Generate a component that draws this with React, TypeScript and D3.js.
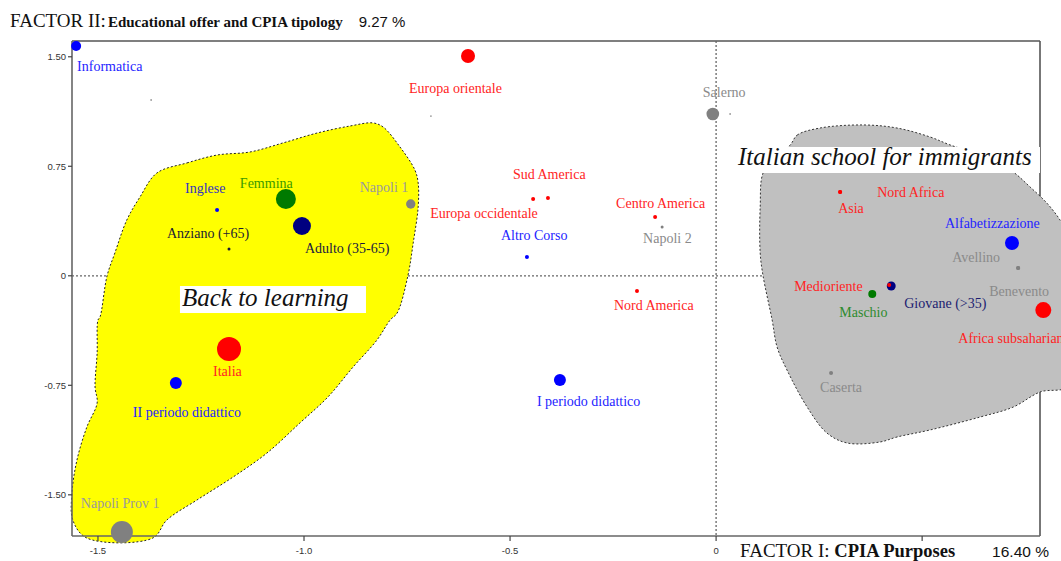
import React from 'react';
import * as d3 from 'd3';

// ---------- data ----------
const pointNames = [
  'Informatica', 'Europa orientale', 'Salerno', 'Napoli 1', 'Femmina', 'Adulto (35-65)', 'Inglese',
  'Anziano (+65)', 'Europa occidentale', 'Sud America', 'Altro Corso', 'Centro America', 'Napoli 2',
  'Nord America', 'I periodo didattico', 'II periodo didattico', 'Italia', 'Napoli Prov 1', 'Asia',
  'Nord Africa', 'Alfabetizzazione', 'Avellino', 'Benevento', 'Giovane (>35)', 'Medioriente', 'Maschio',
  'Africa subsahariana', 'Caserta',
];
const factor1 = [
  -1.553, -0.602, -0.008, -0.741, -1.044, -1.005, -1.211,
  -1.182, -0.444, -0.408, -0.459, -0.148, -0.131,
  -0.192, -0.379, -1.311, -1.182, -1.442, 0.301,
  0.301, 0.718, 0.733, 0.733, 0.425, 0.420, 0.379,
  0.794, 0.279,
];
const factor2 = [
  1.574, 1.505, 1.108, 0.492, 0.526, 0.341, 0.451,
  0.184, 0.526, 0.533, 0.129, 0.403, 0.334,
  -0.104, -0.714, -0.734, -0.502, -1.755, 0.574,
  0.574, 0.225, 0.053, 0.053, -0.070, -0.063, -0.125,
  -0.235, -0.666,
];
const pointGroup = [
  'course', 'region', 'cpia', 'cpia', 'gender', 'age', 'course',
  'age', 'region', 'region', 'course', 'region', 'cpia',
  'region', 'course', 'course', 'region', 'cpia', 'region',
  'region', 'course', 'cpia', 'cpia', 'age', 'region', 'gender',
  'region', 'cpia',
];
const mass = [
  25, 49, 40, 22, 100, 81, 4,
  2.25, 4, 4, 4, 4, 2.25,
  4, 36, 36, 144, 121, 4,
  4, 49, 4, 4, 20, 4, 16,
  64, 4,
];
// unlabeled residual points
const strayF1 = [-1.371, -0.692, 0.034];
const strayF2 = [1.204, 1.094, 1.108];

const xTicks = [-1.5, -1.0, -0.5, 0, 0.5];
const xTickLabels = ['-1.5', '-1.0', '-0.5', '0', ''];
const yTicks = [1.5, 0.75, 0, -0.75, -1.5];
const yTickLabels = ['1.50', '0.75', '0', '-0.75', '-1.50'];

// outlines of the two groupings (factor coordinates)
const backOutline: [number, number][] = [
  [-1.357, 0.704], [-1.284, 0.773], [-1.211, 0.827], [-1.131, 0.848], [-1.051, 0.91], [-0.968, 0.978],
  [-0.888, 1.026], [-0.833, 1.047], [-0.808, 1.019], [-0.767, 0.882], [-0.731, 0.725], [-0.723, 0.636],
  [-0.723, 0.471], [-0.735, 0.225], [-0.748, -0.001], [-0.774, -0.255], [-0.791, -0.303], [-0.823, -0.44],
  [-0.881, -0.625], [-0.942, -0.83], [-1.01, -1.008], [-1.09, -1.214], [-1.172, -1.378], [-1.26, -1.536],
  [-1.333, -1.673], [-1.367, -1.796], [-1.527, -1.796], [-1.561, -1.673], [-1.563, -1.488], [-1.551, -1.262],
  [-1.527, -1.036], [-1.502, -0.871], [-1.507, -0.762], [-1.502, -0.529], [-1.5, -0.303], [-1.495, -0.282],
  [-1.478, -0.001], [-1.459, 0.156], [-1.43, 0.382], [-1.398, 0.54],
];
const immigrantOutline: [number, number][] = [
  [0.18, 0.896], [0.197, 0.964], [0.252, 1.012], [0.357, 1.033], [0.439, 1.012], [0.519, 0.951],
  [0.568, 0.896], [0.641, 0.827], [0.714, 0.725], [0.762, 0.608], [0.811, 0.471], [0.847, 0.314],
  [0.87, 0.0], [0.859, -0.748], [0.786, -0.796], [0.721, -0.899], [0.641, -0.967], [0.519, -1.056],
  [0.439, -1.104], [0.398, -1.138], [0.318, -1.145], [0.269, -1.077], [0.221, -0.899], [0.172, -0.645],
  [0.148, -0.488], [0.136, -0.303], [0.114, -0.001], [0.107, 0.156], [0.107, 0.471], [0.114, 0.704],
  [0.143, 0.807],
];
const backTitle = 'Back to learning';
const immigrantTitle = 'Italian school for immigrants';

// ---------- layout / style ----------
const W = 1061;
const H = 561;
const PLOT = { left: 72, right: 1040, top: 41, bottom: 536 };
const X_DOMAIN: [number, number] = [-1.563, 0.786];
const Y_DOMAIN: [number, number] = [-1.782, 1.608];

const dotColor: Record<string, string> = {
  region: '#ff0000', course: '#0000ff', age: '#000080', gender: '#007a00', cpia: '#808080',
};
const textColor: Record<string, string> = {
  region: '#ff2424', course: '#2424ff', age: '#1c1c70', gender: '#2e8b2e', cpia: '#8a8a8a',
};
const textColorOverride: Record<string, string> = {
  'Anziano (+65)': '#1a1a33', 'Adulto (35-65)': '#1a1a40', 'Inglese': '#3434c0', 'Femmina': '#3a9a00',
  'Napoli 1': '#9a9a9a', 'Napoli Prov 1': '#9a9a9a',
};
const dotColorOverride: Record<string, string> = { 'Anziano (+65)': '#1a1a33' };

const labelOffset: Record<string, [number, number]> = {
  'Informatica': [1, 25], 'Europa orientale': [-59, 37], 'Salerno': [-10, -17], 'Napoli 1': [-51, -12],
  'Femmina': [-46, -11], 'Adulto (35-65)': [3, 27], 'Inglese': [-32, -17], 'Anziano (+65)': [-62, -11],
  'Europa occidentale': [-103, 19], 'Sud America': [-35, -19], 'Altro Corso': [-26, -17],
  'Centro America': [-39, -9], 'Napoli 2': [-19, 16], 'Nord America': [-23, 19],
  'I periodo didattico': [-23, 26], 'II periodo didattico': [-43, 34], 'Italia': [-16, 27],
  'Napoli Prov 1': [-41, -24], 'Asia': [-2, 21], 'Nord Africa': [37, 5], 'Alfabetizzazione': [-67, -15],
  'Avellino': [-66, -6], 'Benevento': [-29, 28], 'Medioriente': [-95, 6], 'Giovane (>35)': [13, 22],
  'Maschio': [-33, 23], 'Africa subsahariana': [-85, 33], 'Caserta': [-11, 19],
};

const SERIF = '"Liberation Serif", "Times New Roman", serif';
const SANS = '"Liberation Sans", Arial, sans-serif';

export default function App() {
  const x = d3.scaleLinear().domain(X_DOMAIN).range([PLOT.left, PLOT.right]);
  const y = d3.scaleLinear().domain(Y_DOMAIN).range([PLOT.bottom, PLOT.top]);
  const r = d3.scaleSqrt().domain([0, 144]).range([0, 12]);

  const blob = d3
    .line<[number, number]>()
    .x((d) => x(d[0]))
    .y((d) => y(d[1]))
    .curve(d3.curveCatmullRomClosed.alpha(0.5));

  const x0 = x(0);
  const y0 = y(0);

  return (
    <svg
      width={W}
      height={H}
      style={{ position: 'absolute', left: 0, top: 0, background: '#fff' }}
      fontFamily={SERIF}
    >
      {/* top / right border */}
      <line x1={PLOT.left} x2={PLOT.right} y1={PLOT.top} y2={PLOT.top} stroke="#555" strokeWidth={1.6} />
      <line x1={PLOT.right} x2={PLOT.right} y1={PLOT.top} y2={PLOT.bottom} stroke="#555" strokeWidth={1.6} />

      {/* zero reference lines */}
      <line x1={x0} x2={x0} y1={PLOT.top} y2={PLOT.bottom} stroke="#666" strokeWidth={1.3} strokeDasharray="2,2" />
      <line x1={PLOT.left} x2={PLOT.right} y1={y0} y2={y0} stroke="#666" strokeWidth={1.3} strokeDasharray="2,2" />

      {/* groupings */}
      <path d={blob(backOutline) || ''} fill="#ffff00" stroke="#222" strokeWidth={1} strokeDasharray="2,2" />
      <path d={blob(immigrantOutline) || ''} fill="#c0c0c0" stroke="#333" strokeWidth={1} strokeDasharray="2,2" />

      {/* group titles */}
      <rect x={x(-1.301)} y={y(-0.07)} width={186} height={27} fill="#fff" />
      <text x={x(-1.301) + 2} y={y(-0.07) + 20} fontSize={25} fontStyle="italic" fill="#111">
        {backTitle}
      </text>
      <rect x={x(0.041)} y={y(0.882)} width={307} height={26} fill="#fff" />
      <text x={x(0.041) + 5} y={y(0.882) + 18} fontSize={25} fontStyle="italic" fill="#111">
        {immigrantTitle}
      </text>

      {/* axes */}
      <line x1={PLOT.left} x2={PLOT.left} y1={PLOT.top} y2={PLOT.bottom} stroke="#666" strokeWidth={1.6} />
      <line x1={PLOT.left} x2={PLOT.right} y1={PLOT.bottom} y2={PLOT.bottom} stroke="#666" strokeWidth={1.6} />
      {yTicks.map((t, i) => (
        <g key={'yt' + i}>
          <line x1={PLOT.left - 4} x2={PLOT.left} y1={y(t)} y2={y(t)} stroke="#444" strokeWidth={1.2} />
          <text x={PLOT.left - 6} y={y(t) + 3.5} fontSize={9.5} fontFamily={SANS} textAnchor="end" fill="#333">
            {yTickLabels[i]}
          </text>
        </g>
      ))}
      {xTicks.map((t, i) => (
        <g key={'xt' + i}>
          <line x1={x(t)} x2={x(t)} y1={PLOT.bottom} y2={PLOT.bottom + 5} stroke="#444" strokeWidth={1.2} />
          <text x={x(t)} y={PLOT.bottom + 18} fontSize={9.5} fontFamily={SANS} textAnchor="middle" fill="#333">
            {xTickLabels[i]}
          </text>
        </g>
      ))}

      {/* stray points */}
      {strayF1.map((v, i) => (
        <circle key={'s' + i} cx={x(v)} cy={y(strayF2[i])} r={0.9} fill="#999" />
      ))}

      {/* points */}
      {pointNames.map((name, i) => (
        <circle
          key={'p' + i}
          cx={x(factor1[i])}
          cy={y(factor2[i])}
          r={r(mass[i])}
          fill={dotColorOverride[name] || dotColor[pointGroup[i]]}
        />
      ))}

      {/* labels */}
      {pointNames.map((name, i) => {
        const [dx, dy] = labelOffset[name] || [0, 0];
        return (
          <text
            key={'l' + i}
            x={x(factor1[i]) + dx}
            y={y(factor2[i]) + dy}
            fontSize={14}
            fill={textColorOverride[name] || textColor[pointGroup[i]]}
          >
            {name}
          </text>
        );
      })}

      {/* axis titles */}
      <text x={10} y={27} fill="#111">
        <tspan fontSize={19}>FACTOR II:</tspan>
        <tspan fontSize={15} fontWeight="bold" dx={2}>Educational offer and CPIA tipology</tspan>
        <tspan fontSize={15} fontFamily={SANS} dx={16}>9.27 %</tspan>
      </text>
      <text x={740} y={557} fill="#111">
        <tspan fontSize={19}>FACTOR I: </tspan>
        <tspan fontSize={18.5} fontWeight="bold">CPIA Purposes</tspan>
      </text>
      <text x={1049} y={557} fill="#111" fontSize={15.5} fontFamily={SANS} textAnchor="end">
        16.40 %
      </text>
    </svg>
  );
}
